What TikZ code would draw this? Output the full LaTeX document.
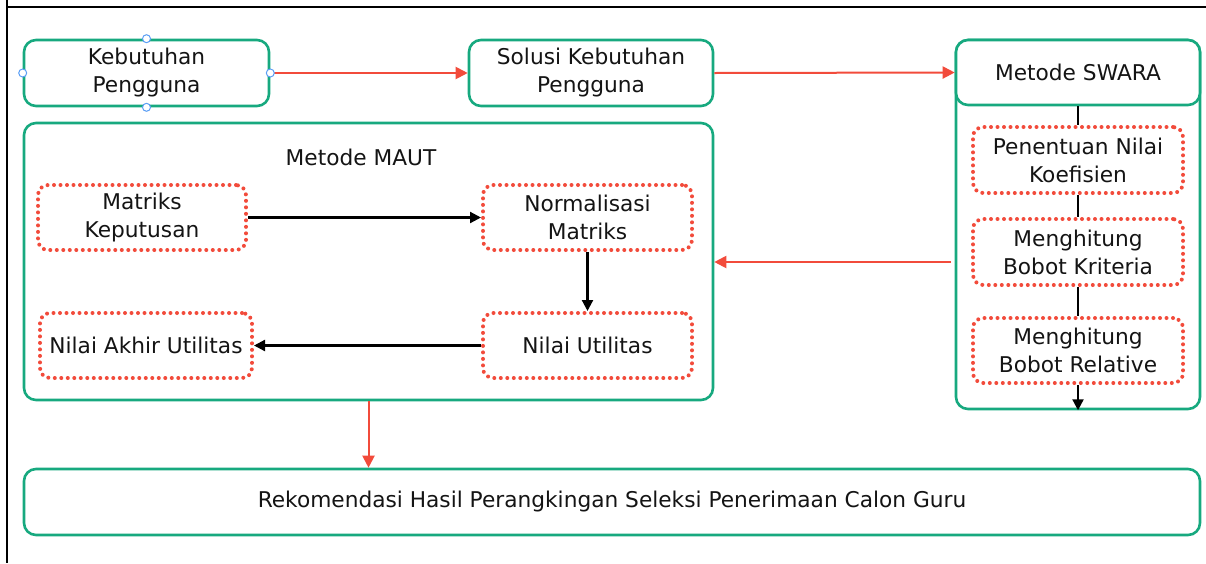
\documentclass[tikz,border=0pt]{standalone}
\usepackage{fontspec}
\setmainfont{DejaVu Sans}
\usetikzlibrary{arrows.meta,calc}
\definecolor{grn}{HTML}{17A97F}
\definecolor{rd}{HTML}{F24B3B}
\definecolor{hdl}{HTML}{5A9EF5}
\definecolor{txt}{HTML}{141414}
\tikzset{
  lbl/.style={font=\fontsize{21.7}{28}\selectfont,text=txt},
  gbox/.style={lbl,draw=grn,line width=2.6pt,rounded corners=12pt,fill=white,inner sep=0pt,align=center},
  dbox/.style={lbl,draw=rd,line width=4pt,line cap=round,dash pattern=on 0pt off 6.5pt,rounded corners=10pt,inner sep=0pt,align=center},
  redarr/.style={draw=rd,line width=2pt,-{Triangle[length=12pt,width=12pt]}},
  blkarr/.style={draw=black,line width=2.2pt,-{Triangle[length=11pt,width=11pt]}},
  blkline/.style={draw=black,line width=2.2pt},
  handle/.style={circle,draw=hdl,fill=white,line width=1pt,minimum size=8pt,inner sep=0pt},
  frameline/.style={draw=black,line width=2pt}
}
\begin{document}
\begin{tikzpicture}[x=1pt,y=-1pt]
\useasboundingbox (0,0) rectangle (1206,563);
% page frame
\coordinate (f1) at (7,0);
\coordinate (f2) at (7,563);
\coordinate (f3) at (6,7);
\coordinate (f4) at (1206,7);
\draw[frameline] (f1) -- (f2);
\draw[frameline] (f3) -- (f4);
% top row
\node[gbox,minimum width=245pt,minimum height=66pt] (keb) at (146.5,73) {Kebutuhan\\Pengguna};
\node[gbox,minimum width=244pt,minimum height=66pt] (sol) at (591,73) {Solusi Kebutuhan\\Pengguna};
% SWARA container
\node[gbox,minimum width=244pt,minimum height=369pt] (swc) at (1078,224.5) {};
\node[gbox,minimum width=244pt,minimum height=65pt] (swh) at (1078,72.5) {Metode SWARA};
% MAUT container
\node[gbox,minimum width=689pt,minimum height=277pt] (maut) at (368.5,261.5) {};
\node[lbl] (mautt) at (361,157) {Metode MAUT};
% MAUT inner
\node[dbox,minimum width=208pt,minimum height=65pt] (mk) at (142,217.5) {Matriks\\Keputusan};
\node[dbox,minimum width=209pt,minimum height=65pt] (nm) at (587.5,217.5) {Normalisasi\\Matriks};
\node[dbox,minimum width=212pt,minimum height=65pt] (na) at (146,345.5) {Nilai Akhir Utilitas};
\node[dbox,minimum width=209pt,minimum height=65pt] (nu) at (587.5,345.5) {Nilai Utilitas};
% SWARA inner
\node[dbox,minimum width=210pt,minimum height=66pt] (s1) at (1078,160) {Penentuan Nilai\\Koefisien};
\node[dbox,minimum width=210pt,minimum height=66pt] (s2) at (1078,252) {Menghitung\\Bobot Kriteria};
\node[dbox,minimum width=210pt,minimum height=65pt] (s3) at (1078,350.5) {Menghitung\\Bobot Relative};
% bottom
\node[gbox,minimum width=1176pt,minimum height=66pt] (rek) at (612,502) {Rekomendasi Hasil Perangkingan Seleksi Penerimaan Calon Guru};
% connectors
\draw[redarr] (keb.east) -- (sol.west);
\draw[redarr] (sol.east) -- (swh.west);
\coordinate (swout) at (951,262);
\draw[redarr] (swout) -- (swout -| maut.east);
\draw[redarr] (maut.south) -- (maut.south |- rek.north);
\draw[blkarr] (mk.east) -- (nm.west);
\draw[blkarr] (nm.south) -- (nu.north);
\draw[blkarr] (nu.west) -- (na.east);
\draw[blkline] (swh.south) -- (s1.north);
\draw[blkline] (s1.south) -- (s2.north);
\draw[blkline] (s2.south) -- (s3.north);
\draw[blkarr] (s3.south) -- (swc.south);
% selection handles
\node[handle] (h1) at (keb.north) {};
\node[handle] (h2) at (keb.south) {};
\node[handle] (h3) at (keb.west) {};
\node[handle] (h4) at (keb.east) {};
\end{tikzpicture}
\end{document}
